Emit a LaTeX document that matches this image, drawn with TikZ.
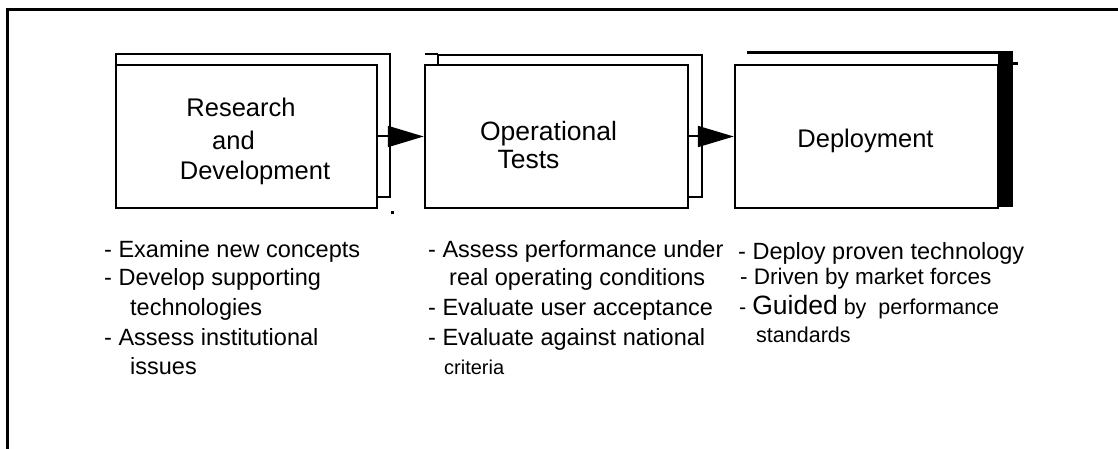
\documentclass[tikz,border=0pt]{standalone}
\usepackage{fontspec}
\setmainfont{Liberation Sans}
\usetikzlibrary{arrows.meta}

\tikzset{
  stage/.style={draw, fill=white, line width=2.5pt, inner sep=0pt,
                minimum width=262pt, minimum height=143pt},
  sheet/.style={line width=2pt},
  flow/.style={line width=2pt, -{Triangle[length=36pt,width=21pt]}},
  title/.style={anchor=base, inner sep=0pt, font=\fontsize{25.5}{30}\selectfont},
  item/.style={anchor=base west, inner sep=0pt, font=\fontsize{23.5}{28}\selectfont},
}

\begin{document}
\begin{tikzpicture}[x=1pt,y=-1pt]
                \useasboundingbox (0,0) rectangle (1118,449);
                \draw[line width=3pt] (7.5,449) -- (7.5,10) -- (1118,10);

                \draw[sheet] (116,65) -- (116,54) -- (390,54) -- (390,197) -- (377,197);
                \draw[sheet] (425,54) -- (438,54);
                \draw[sheet] (438,65) -- (438,55) -- (702,55) -- (702,197) -- (688,197);
                \draw[line width=3pt] (747,53) -- (1013,53);
                \fill (998,52) rectangle (1013,207);
                \fill (390.5,211) rectangle +(3,3);

                \node[stage, minimum width=261pt] (rd) at (246.5,136.5) {};
                \node[stage, minimum width=263pt] (ot) at (556.5,136.5) {};
                \node[stage, minimum width=263pt] (dp) at (866.5,136.5) {};
                \draw[line width=2.5pt] (dp.north east) -- +(19,0);

                \node[title] (rdA) at (241,117) {Research};
                \node[title] (rdB) at (233.5,150) {and};
                \node[title] (rdC) at (255,180) {Development};
                \node[title, font=\fontsize{26.5}{30}\selectfont] (otA) at (548.5,141) {Operational};
                \node[title, font=\fontsize{26.5}{30}\selectfont] (otB) at (528.5,169) {Tests};
                \node[title] (dpA) at (865.5,148) {Deployment};

                \draw[flow] (rd.east) -- (ot.west);
                \draw[flow] (ot.east) -- (dp.west);

                \node[item] (rd1) at (104,257) {- Examine new concepts};
                \node[item] (rd2) at (104,285) {- Develop supporting};
                \node[item] (rd3) at (130,315) {technologies};
                \node[item] (rd4) at (104,345) {- Assess institutional};
                \node[item] (rd5) at (130,374) {issues};

                \node[item] (ot1) at (428,257) {- Assess performance under};
                \node[item] (ot2) at (449,285) {real operating conditions};
                \node[item] (ot3) at (428,315) {- Evaluate user acceptance};
                \node[item] (ot4) at (428,345) {- Evaluate against national};
                \node[item, font=\fontsize{20}{24}\selectfont] (ot5) at (444,374) {criteria};

                \node[item] (dp1) at (738,259) {- Deploy proven technology};
                \node[item, font=\fontsize{22.5}{27}\selectfont] (dp2) at (740,284) {- Driven by market forces};
                \node[item, font=\fontsize{21.5}{26}\selectfont] (dp3) at (739,314)
                  {- {\fontsize{26.5}{30}\selectfont Guided} by\ \ performance};
                \node[item, font=\fontsize{21.5}{26}\selectfont] (dp4) at (756,342) {standards};
\end{tikzpicture}
\end{document}
